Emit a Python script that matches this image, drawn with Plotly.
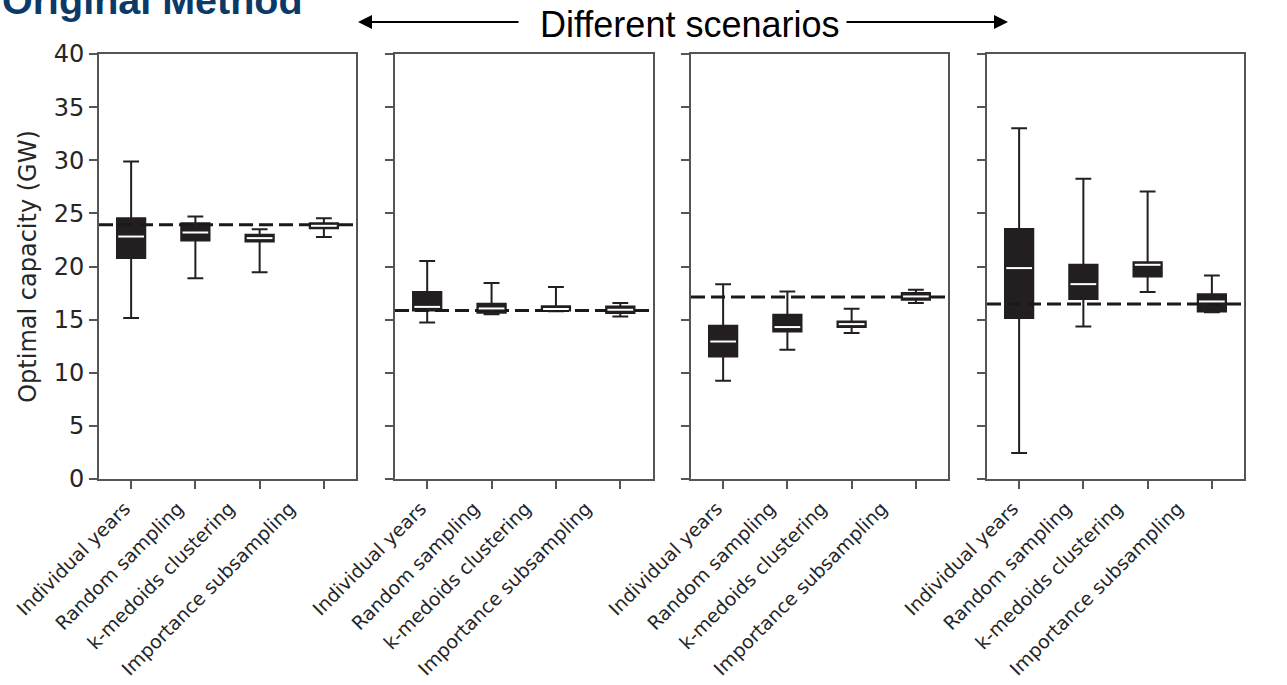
import plotly.graph_objects as go

# ---------------- data ----------------
methods = ["Individual years", "Random sampling", "k-medoids clustering", "Importance subsampling"]
positions = [1, 2, 3, 4]

# scenario 1
s1_low = [15.15, 18.9, 19.47, 22.77]
s1_q1 = [20.79, 22.45, 22.35, 23.6]
s1_med = [22.82, 23.2, 22.67, 23.83]
s1_q3 = [24.55, 24.08, 22.98, 24.08]
s1_high = [29.88, 24.7, 23.5, 24.55]
s1_ref = 23.92

# scenario 2
s2_low = [14.73, 15.5, 15.8, 15.3]
s2_q1 = [15.85, 15.65, 15.85, 15.62]
s2_med = [16.2, 16.05, 16.0, 15.93]
s2_q3 = [17.6, 16.5, 16.25, 16.24]
s2_high = [20.51, 18.44, 18.06, 16.56]
s2_ref = 15.86

# scenario 3
s3_low = [9.25, 12.16, 13.73, 16.56]
s3_q1 = [11.53, 13.88, 14.3, 16.87]
s3_med = [12.94, 14.3, 14.58, 17.18]
s3_q3 = [14.42, 15.46, 14.83, 17.5]
s3_high = [18.34, 17.65, 16.02, 17.81]
s3_ref = 17.12

# scenario 4
s4_low = [2.45, 14.36, 17.59, 15.7]
s4_q1 = [15.15, 16.93, 19.06, 15.77]
s4_med = [19.85, 18.34, 20.16, 16.71]
s4_q3 = [23.52, 20.16, 20.41, 17.4]
s4_high = [33.02, 28.25, 27.06, 19.15]
s4_ref = 16.46

scenarios = [
    (s1_low, s1_q1, s1_med, s1_q3, s1_high, s1_ref),
    (s2_low, s2_q1, s2_med, s2_q3, s2_high, s2_ref),
    (s3_low, s3_q1, s3_med, s3_q3, s3_high, s3_ref),
    (s4_low, s4_q1, s4_med, s4_q3, s4_high, s4_ref),
]

y_ticks = [0, 5, 10, 15, 20, 25, 30, 35, 40]

# ---------------- styling / layout ----------------
W, H = 1287, 685
top_px, bottom_px = 54, 479.3
panel_px = [(99, 356), (395, 652.5), (691, 948), (987, 1244)]
label_shift = [0.1, 0.27, 0.47, 0.53]   # rotated label anchor offset (styling)
BOX_W = 0.44
BOX_COLOR = "#231f20"
AXIS_COLOR = "#555555"
TEXT_COLOR = "#262626"
FONT = "DejaVu Sans"

fig = go.Figure()

for i, (low, q1, med, q3, high, ref) in enumerate(scenarios):
    xa = "x" if i == 0 else f"x{i+1}"
    ya = "y" if i == 0 else f"y{i+1}"
    # reference dashed line
    fig.add_trace(go.Scatter(
        x=[0.5, 4.5], y=[ref, ref], mode="lines",
        line=dict(color="#1a1a1a", width=3, dash="14px,6px"),
        xaxis=xa, yaxis=ya, showlegend=False, hoverinfo="skip"))
    # boxes
    for j, p in enumerate(positions):
        fig.add_trace(go.Box(
            x=[p], q1=[q1[j]], median=[med[j]], q3=[q3[j]],
            lowerfence=[low[j]], upperfence=[high[j]],
            width=BOX_W, whiskerwidth=0.56,
            fillcolor=BOX_COLOR, line=dict(color=BOX_COLOR, width=2),
            boxpoints=False, name=methods[j],
            xaxis=xa, yaxis=ya, showlegend=False))
    # white median lines
    mx, my = [], []
    for j, p in enumerate(positions):
        mx += [p - BOX_W / 2 + 0.02, p + BOX_W / 2 - 0.02, None]
        my += [med[j], med[j], None]
    fig.add_trace(go.Scatter(
        x=mx, y=my, mode="lines", line=dict(color="white", width=2),
        xaxis=xa, yaxis=ya, showlegend=False, hoverinfo="skip"))
    # invisible anchor trace for the label axis
    fig.add_trace(go.Scatter(
        x=[positions[0]], y=[ref], mode="markers", marker=dict(opacity=0),
        xaxis=f"x{i+5}", yaxis=ya, showlegend=False, hoverinfo="skip"))

layout = dict(
    width=W, height=H,
    margin=dict(l=0, r=0, t=top_px, b=H - bottom_px, autoexpand=False),
    paper_bgcolor="white", plot_bgcolor="white",
    font=dict(family=FONT, color=TEXT_COLOR),
    showlegend=False,
)

for i, (a, b) in enumerate(panel_px):
    xk = "xaxis" if i == 0 else f"xaxis{i+1}"
    yk = "yaxis" if i == 0 else f"yaxis{i+1}"
    ya = "y" if i == 0 else f"y{i+1}"
    xa = "x" if i == 0 else f"x{i+1}"
    layout[xk] = dict(
        domain=[a / W, b / W], anchor=ya, range=[0.5, 4.5], automargin=False,
        tickmode="array", tickvals=positions, showticklabels=False,
        ticks="outside", ticklen=8, tickwidth=2, tickcolor=AXIS_COLOR,
        showline=True, linecolor=AXIS_COLOR, linewidth=2, mirror=True,
        showgrid=False, zeroline=False,
    )
    # label axis (overlay, same scale)
    layout[f"xaxis{i+5}"] = dict(
        domain=[a / W, b / W], anchor=ya, overlaying=xa, side="bottom",
        range=[0.5, 4.5], automargin=False,
        tickmode="array", tickvals=[p - s for p, s in zip(positions, label_shift)],
        ticktext=methods, tickangle=-45,
        ticks="outside", ticklen=10, tickcolor="rgba(0,0,0,0)",
        showline=False, showgrid=False, zeroline=False,
        tickfont=dict(family=FONT, size=19, color=TEXT_COLOR),
    )
    layout[yk] = dict(
        domain=[0, 1], anchor=xa, range=[0, 40], automargin=False,
        tickmode="array", tickvals=y_ticks,
        ticks="outside", ticklen=8, tickwidth=2, tickcolor=AXIS_COLOR,
        showline=True, linecolor=AXIS_COLOR, linewidth=2, mirror=True,
        showgrid=False, zeroline=False,
        showticklabels=(i == 0),
        tickfont=dict(family=FONT, size=24, color=TEXT_COLOR),
    )

layout["yaxis"]["title"] = dict(text="Optimal capacity (GW)",
                                font=dict(family=FONT, size=24, color=TEXT_COLOR),
                                standoff=10)

fig.update_layout(**layout)

def py(pix):
    return 1 + (top_px - pix) / (bottom_px - top_px)

annotations = [
    dict(text="<b>Original Method</b>", xref="paper", yref="paper",
         x=0.0, y=py(0), xanchor="left", yanchor="middle", showarrow=False,
         font=dict(family="Liberation Sans", size=39.5, color="#0b3a68")),
    dict(text="Different scenarios", xref="paper", yref="paper",
         x=689 / W, y=py(24), xanchor="center", yanchor="middle", showarrow=False,
         font=dict(family="Liberation Sans", size=36, color="#000000")),
    dict(text="", xref="paper", yref="paper", x=358 / W, y=py(22),
         ax=520 - 358, ay=0, showarrow=True, arrowhead=2, arrowsize=1.4,
         arrowwidth=2, arrowcolor="#000000"),
    dict(text="", xref="paper", yref="paper", x=1008 / W, y=py(22),
         ax=845 - 1008, ay=0, showarrow=True, arrowhead=2, arrowsize=1.4,
         arrowwidth=2, arrowcolor="#000000"),
]
fig.update_layout(annotations=annotations)

fig.write_html("out.html")
